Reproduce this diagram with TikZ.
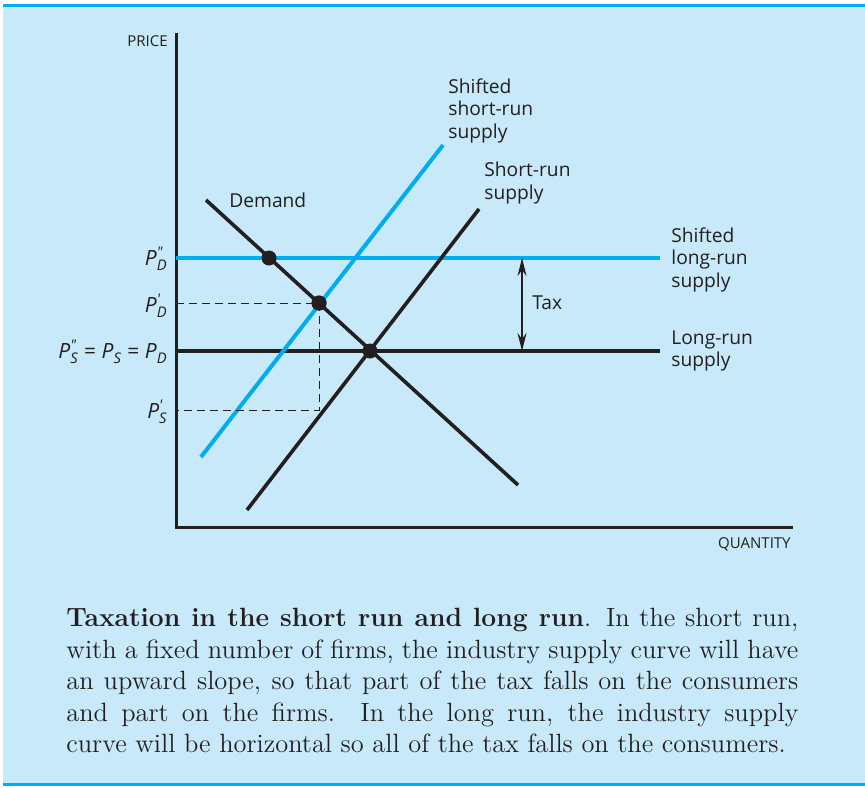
\documentclass[tikz,border=0pt]{standalone}
\usepackage{fontspec}
\usepackage{amstext}
\usetikzlibrary{arrows.meta}
\newfontfamily\lblfont{Open Sans}[Ligatures=TeXOff]
\definecolor{panelblue}{HTML}{C7E9F9}
\definecolor{curveblue}{HTML}{00AEEF}
\definecolor{ink}{HTML}{231F20}
\newcommand\pval[2]{\textit{P}$^{\textit{#1}}_{\textit{#2}}$}
\begin{document}
\begin{tikzpicture}[x=0.5pt, y=-0.5pt, every node/.style={inner sep=0pt, text=ink},
	lbl/.style={font=\lblfont\fontsize{9.6}{11.25}\selectfont, align=left, anchor=north west},
	plbl/.style={font=\lblfont\fontsize{10.5}{12}\selectfont, anchor=base east},
	axlbl/.style={font=\lblfont\fontsize{7.5}{9}\selectfont, anchor=base east},
	curve/.style={line width=1.8pt, draw=ink},
	blue curve/.style={line width=2pt, draw=curveblue},
	guide/.style={draw=ink, line width=0.5pt, dash pattern=on 4pt off 2.5pt},
	dot/.style={circle, fill=ink, minimum size=7.5pt},
	tax arrow/.style={draw=ink, line width=0.6pt, >={Stealth[length=9pt, width=4.5pt]}, <->}]
		\useasboundingbox (0,0) rectangle (865,787);
		\fill[panelblue] (3,7) rectangle (865,783);
		\draw[curveblue, line width=1.6pt] (3,5.5) -- (865,5.5);
		\draw[curveblue, line width=1.6pt] (3,784.5) -- (865,784.5);
		% axes
		\coordinate (O) at (176,527);
		\coordinate (ytop) at (176,33);
		\coordinate (xend) at (793,527);
		\draw[ink, line width=1.5pt] (ytop) -- (O) -- (xend);
		\node[axlbl] (price) at (168,46) {PRICE};
		\node[axlbl] (quantity) at (791,548) {QUANTITY};
		% curves
		\coordinate (lr0) at (176,351);   \coordinate (lr1) at (660,351);
		\coordinate (slr0) at (176,258);  \coordinate (slr1) at (660,258);
		\coordinate (ssr0) at (201,457);  \coordinate (ssr1) at (443,145);
		\coordinate (sr0) at (247,510);   \coordinate (sr1) at (479,209);
		\coordinate (d0) at (206,200);    \coordinate (d1) at (518,485);
		\draw[curve] (lr0) -- (lr1);
		\draw[blue curve] (slr0) -- (slr1);
		\draw[blue curve] (ssr0) -- (ssr1);
		\draw[curve] (sr0) -- (sr1);
		\draw[curve] (d0) -- (d1);
		% guides
		\coordinate (pd1) at (176,303);
		\coordinate (ps1) at (176,410);
		\coordinate (q1) at (319,410);
		\node[dot] (eA) at (269,258) {};
		\node[dot] (eB) at (319,303) {};
		\node[dot] (eC) at (370,351) {};
		\draw[guide] (pd1) -- (eB.center) -- (q1) -- (ps1);
		\fill[ink] (eB) circle (3.75pt);
		% tax
		\coordinate (taxtop) at (522,258);
		\coordinate (taxbot) at (522,351);
		\draw[tax arrow] (taxtop) -- (taxbot);
		\node[lbl, anchor=west] (tax) at (532,303) {Tax};
		% labels
		\node[lbl] (ssrlbl) at (448,78) {Shifted\\short-run\\supply};
		\node[lbl] (srlbl) at (484,162) {Short-run\\supply};
		\node[lbl] (dlbl) at (229,193) {Demand};
		\node[lbl] (slrlbl) at (671,227) {Shifted\\long-run\\supply};
		\node[lbl] (lrlbl) at (671,330) {Long-run\\supply};
		\node[plbl] (pdd) at (168,265) {\pval{"}{D}};
		\node[plbl] (pd) at (168,312) {\pval{'}{D}};
		\node[plbl] (pall) at (168,358) {\pval{"}{S} = \pval{}{S} = \pval{}{D}};
		\node[plbl] (ps) at (168,418) {\pval{'}{S}};
		% caption
		\node[anchor=north west, text width=366pt, align=justify, font=\fontsize{13.2}{15.75}\selectfont] (caption) at (66,608)
			{\noindent\parfillskip=0pt\textbf{Taxation in the short run and long run}.  In the short run,\linebreak
			with a fixed number of firms, the industry supply curve will have\linebreak
			an upward slope, so that part of the tax falls on the consumers\linebreak
			and part on the firms.  In the long run, the industry supply\linebreak
			curve will be horizontal so all of the tax falls on the consumers.};
	\end{tikzpicture}
\end{document}
